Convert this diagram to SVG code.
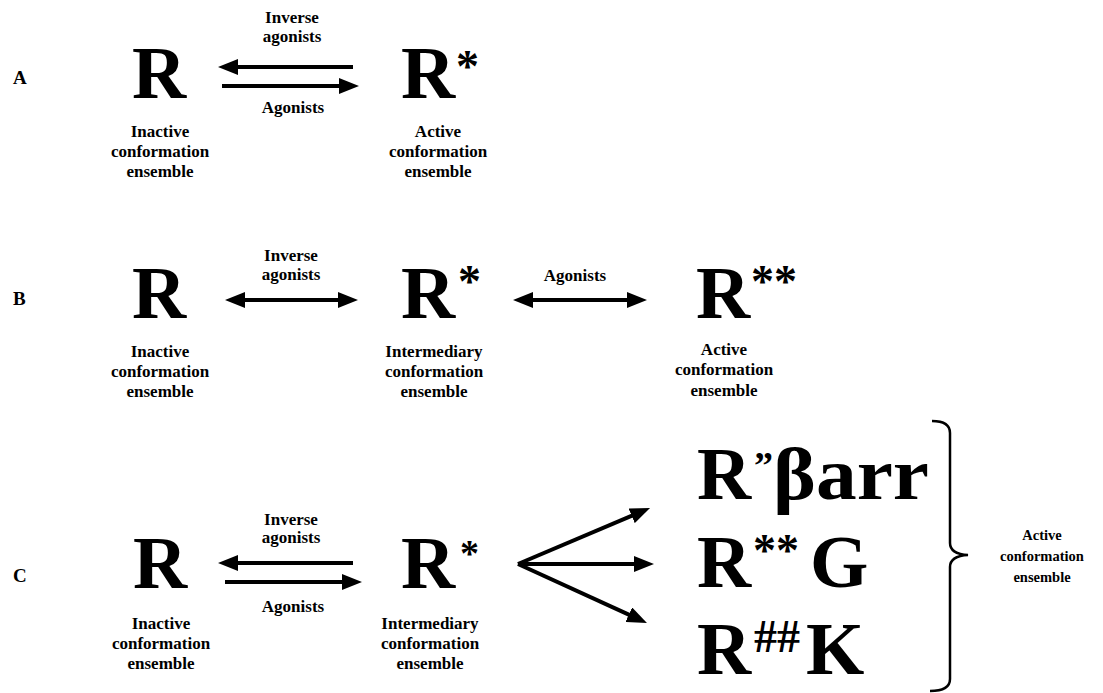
<svg xmlns="http://www.w3.org/2000/svg" width="1103" height="693" viewBox="0 0 1103 693">
<style>
text{font-family:"Liberation Serif","Times New Roman",serif;font-weight:bold;fill:#000}
.big{font-size:75px}
.lbl{font-size:17px;text-anchor:middle}
.sm{font-size:14.5px;text-anchor:middle}
.panel{font-size:19px}
.ar{stroke:#000;stroke-width:4;fill:none}
</style>
<defs>
<marker id="ah" viewBox="0 0 20 16" refX="3" refY="8" markerWidth="20" markerHeight="16" markerUnits="userSpaceOnUse" orient="auto-start-reverse">
<path d="M0,0 L20,8 L0,16 z" fill="#000"/>
</marker>
</defs>
<rect width="1103" height="693" fill="#fff"/>

<g id="panelA">
<text class="panel" x="13" y="84">A</text>
<g id="A_R"><text class="big" x="132" y="98">R</text>
<text class="lbl"><tspan x="160" y="137">Inactive</tspan><tspan x="160" y="157">conformation</tspan><tspan x="160" y="177">ensemble</tspan></text></g>
<g id="A_Rstar"><text class="big" x="401" y="98">R</text><text x="456" y="82" font-size="46">*</text>
<text class="lbl"><tspan x="438" y="137">Active</tspan><tspan x="438" y="157">conformation</tspan><tspan x="438" y="177">ensemble</tspan></text></g>
<text class="lbl"><tspan x="292" y="23">Inverse</tspan><tspan x="292" y="42">agonists</tspan></text>
<text class="lbl" x="293" y="113">Agonists</text>
</g>

<g id="panelB">
<text class="panel" x="13" y="305">B</text>
<g id="B_R"><text class="big" x="132" y="318">R</text>
<text class="lbl"><tspan x="160" y="357">Inactive</tspan><tspan x="160" y="377">conformation</tspan><tspan x="160" y="397">ensemble</tspan></text></g>
<g id="B_Rstar"><text class="big" x="401" y="318">R</text><text x="458" y="297" font-size="46">*</text>
<text class="lbl"><tspan x="434" y="357">Intermediary</tspan><tspan x="434" y="377">conformation</tspan><tspan x="434" y="397">ensemble</tspan></text></g>
<g id="B_Rstar2"><text class="big" x="696" y="318">R</text><text x="751" y="297" font-size="46">**</text>
<text class="lbl"><tspan x="724" y="355">Active</tspan><tspan x="724" y="375">conformation</tspan><tspan x="724" y="396">ensemble</tspan></text></g>
<text class="lbl"><tspan x="291" y="261">Inverse</tspan><tspan x="291" y="280">agonists</tspan></text>
<text class="lbl" x="575" y="281">Agonists</text>
</g>

<g id="panelC">
<text class="panel" x="13" y="582">C</text>
<g id="C_R"><text class="big" x="133" y="588">R</text>
<text class="lbl"><tspan x="161" y="629">Inactive</tspan><tspan x="161" y="649">conformation</tspan><tspan x="161" y="669">ensemble</tspan></text></g>
<g id="C_Rstar"><text class="big" x="401" y="588">R</text><text x="460" y="566" font-size="38">*</text>
<text class="lbl"><tspan x="430" y="629">Intermediary</tspan><tspan x="430" y="649">conformation</tspan><tspan x="430" y="669">ensemble</tspan></text></g>
<text class="lbl"><tspan x="291" y="525">Inverse</tspan><tspan x="291" y="543">agonists</tspan></text>
<text class="lbl" x="293" y="612">Agonists</text>
<g id="C_Rbarr"><text class="big" x="697" y="499">R</text><text x="754" y="478" font-size="38">”</text><text class="big" x="773" y="499" textLength="156" lengthAdjust="spacingAndGlyphs">βarr</text></g>
<g id="C_RG"><text class="big" x="697" y="587">R</text><text x="753" y="566" font-size="46">**</text><text class="big" x="810" y="587">G</text></g>
<g id="C_RK"><text class="big" x="697" y="674">R</text><text x="754" y="652" font-size="46">##</text><text class="big" x="806" y="674">K</text></g>
<g id="C_active"><path d="M932,421 Q950,421 950,433 L950,543 Q950,554 968,555 Q950,556 950,567 L950,679 Q950,691 930,691" fill="none" stroke="#000" stroke-width="2.5"/>
<text class="sm"><tspan x="1042" y="540">Active</tspan><tspan x="1042" y="561">conformation</tspan><tspan x="1042" y="582">ensemble</tspan></text></g>
</g>

<g id="connectors">
<line class="ar" x1="353" y1="67" x2="235" y2="67" marker-end="url(#ah)"/>
<line class="ar" x1="222" y1="86" x2="342" y2="86" marker-end="url(#ah)"/>
<line class="ar" x1="242" y1="300" x2="341" y2="300" marker-start="url(#ah)" marker-end="url(#ah)"/>
<line class="ar" x1="530" y1="300" x2="630" y2="300" marker-start="url(#ah)" marker-end="url(#ah)"/>
<line class="ar" x1="353" y1="563" x2="235" y2="563" marker-end="url(#ah)"/>
<line class="ar" x1="225" y1="582" x2="345" y2="582" marker-end="url(#ah)"/>
<line class="ar" x1="518" y1="564" x2="634.4" y2="514.6" marker-end="url(#ah)"/>
<line class="ar" x1="518" y1="564" x2="637" y2="564" marker-end="url(#ah)"/>
<line class="ar" x1="518" y1="564" x2="631.5" y2="615.9" marker-end="url(#ah)"/>
</g>
</svg>
